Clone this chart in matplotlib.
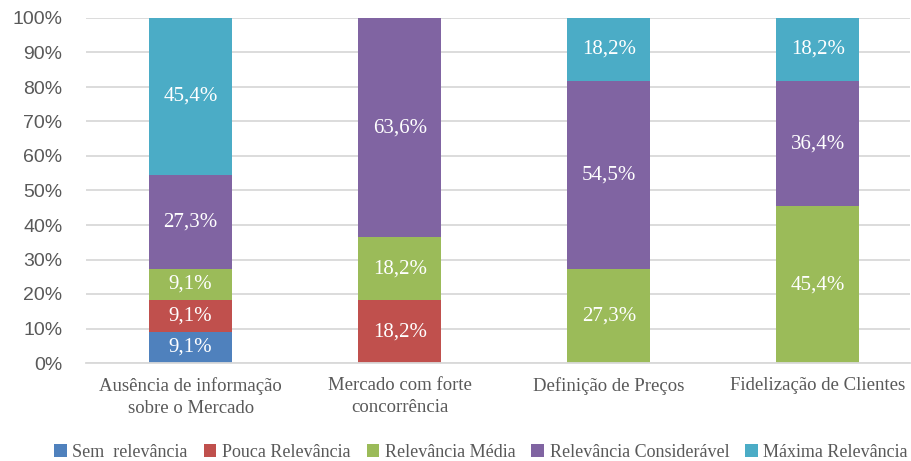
import matplotlib
matplotlib.use("Agg")
import matplotlib.pyplot as plt
import numpy as np

categories = ["Ausência de informação\nsobre o Mercado", "Mercado com forte\nconcorrência",
              "Definição de Preços", "Fidelização de Clientes"]
series_names = ["Sem  relevância", "Pouca Relevância", "Relevância Média",
                "Relevância Considerável", "Máxima Relevância"]
sem_relevancia = [9.1, 0.0, 0.0, 0.0]
pouca_relevancia = [9.1, 18.2, 0.0, 0.0]
relevancia_media = [9.1, 18.2, 27.3, 45.4]
relevancia_consideravel = [27.3, 63.6, 54.5, 36.4]
maxima_relevancia = [45.4, 0.0, 18.2, 18.2]
y_ticks = [0, 10, 20, 30, 40, 50, 60, 70, 80, 90, 100]

colors = ["#4F81BD", "#C0504D", "#9BBB59", "#8064A2", "#4BACC6"]
series = [sem_relevancia, pouca_relevancia, relevancia_media,
          relevancia_consideravel, maxima_relevancia]

W, H = 912, 461
fig = plt.figure(figsize=(W / 100, H / 100), dpi=100)
ax = fig.add_axes([86 / W, (H - 363) / H, (910 - 86) / W, (363 - 18) / H])

serif = "Liberation Serif"
sans = "Liberation Sans"
text_gray = "#595959"

x = np.arange(len(categories))
bottom = np.zeros(len(categories))
handles = []
for name, vals, col in zip(series_names, series, colors):
    vals = np.array(vals)
    bars = ax.bar(x, vals, 0.397, bottom=bottom, color=col, label=name, zorder=2)
    handles.append(bars)
    for xi, v, b in zip(x, vals, bottom):
        if v > 0:
            ax.text(xi, b + v / 2, f"{v:.1f}".replace(".", ",") + "%",
                    ha="center", va="center", color="white",
                    fontsize=15, family=serif, zorder=3)
    bottom += vals

ax.set_xlim(-0.5, 3.44)
ax.set_ylim(0, 100)
ax.set_yticks(y_ticks)
ax.set_yticklabels([f"{t}%" for t in y_ticks], family=sans, fontsize=14, color=text_gray)
ax.set_xticks(x)
ax.set_xticklabels(categories, family=serif, fontsize=13.5, color=text_gray, linespacing=1.4)
ax.tick_params(axis="both", length=0)
ax.tick_params(axis="x", pad=10)
ax.tick_params(axis="y", pad=17)
ax.grid(axis="y", color="#D9D9D9", linewidth=1.3, zorder=0)
for s in ["top", "right", "left"]:
    ax.spines[s].set_visible(False)
ax.spines["bottom"].set_color("#D9D9D9")
ax.spines["bottom"].set_linewidth(1.3)

fig.legend(handles=handles, labels=series_names, loc="center", bbox_to_anchor=(481 / W, (H - 452) / H),
           ncol=5, frameon=False, handlelength=0.7, handleheight=0.7, handletextpad=0.3,
           columnspacing=0.9, prop={"family": serif, "size": 13}, labelcolor=text_gray)

fig.savefig("out.png", dpi=100)
